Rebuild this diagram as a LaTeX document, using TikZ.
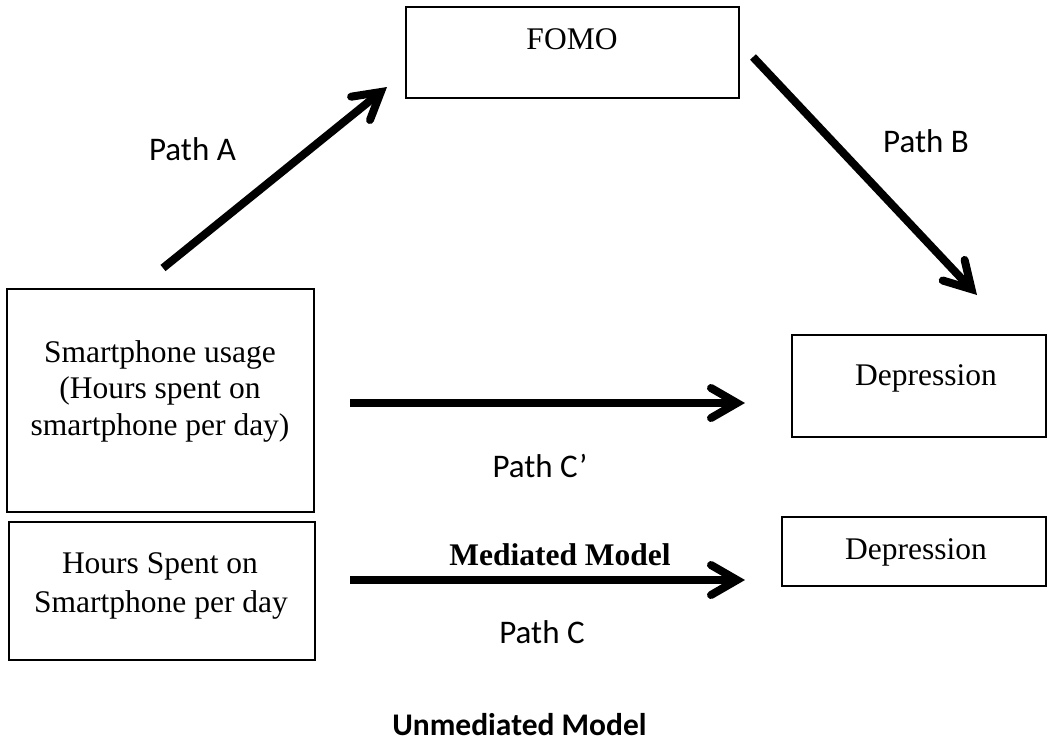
\documentclass[tikz,border=0pt]{standalone}
\usepackage{fontspec}
\setmainfont{Liberation Serif}
\newfontfamily\calfont{Carlito}
\usetikzlibrary{arrows.meta}
\begin{document}
\begin{tikzpicture}[x=1pt,y=-1pt,
  box/.style={draw,line width=2.5pt,inner sep=0pt,rectangle},
  serif/.style={font=\fontsize{31.5}{36.5}\selectfont,inner sep=0pt,anchor=base},
  lab/.style={font=\calfont\fontsize{33}{38}\selectfont,inner sep=0pt,anchor=base},
  conn/.style={line width=8pt,-{Straight Barb[length=26pt,width=30pt,line cap=round,line join=miter]}}]
\useasboundingbox (0,0) rectangle (1049,742);
\fill[white] (0,0) rectangle (1049,742);
% boxes
\node[box,minimum width=333pt,minimum height=91pt] (fomo) at (572.5,52.5) {};
\node[box,minimum width=307pt,minimum height=223pt] (phone) at (160.5,400.5) {};
\node[box,minimum width=306pt,minimum height=138pt] (hours) at (162,591) {};
\node[box,minimum width=254pt,minimum height=102pt] (dep1) at (919,386) {};
\node[box,minimum width=264pt,minimum height=69pt] (dep2) at (914,551.5) {};
% box texts
\node[serif] (fomot) at (572,49) {FOMO};
\node[serif] (ph1) at (160,362) {Smartphone usage};
\node[serif] (ph2) at (160,398) {(Hours spent on};
\node[serif] (ph3) at (160,435) {smartphone per day)};
\node[serif] (ho1) at (160,573) {Hours Spent on};
\node[serif] (ho2) at (161,612) {Smartphone per day};
\node[serif] (dep1t) at (926,385) {Depression};
\node[serif] (dep2t) at (916,559) {Depression};
\node[serif,font=\bfseries\fontsize{31.5}{36.5}\selectfont] (med) at (560,565) {Mediated Model};
% connector end points
\coordinate (a0) at (163,268);
\coordinate (a1) at (387,87);
\coordinate (b0) at (753,57);
\coordinate (b1) at (977,295);
\coordinate (c0) at (350,403);
\coordinate (c1) at (745,403);
\coordinate (d0) at (350,580);
\coordinate (d1) at (745,580);
\draw[conn] (a0) -- (a1);
\draw[conn] (b0) -- (b1);
\draw[conn] (c0) -- (c1);
\draw[conn] (d0) -- (d1);
% path labels
\node[lab] (pa) at (192.5,160) {Path A};
\node[lab] (pb) at (926,152) {Path B};
\node[lab] (pcp) at (540,477) {Path C’};
\node[lab] (pc) at (542,643) {Path C};
\node[lab,font=\calfont\bfseries\fontsize{31.5}{36}\selectfont] (unmed) at (519.5,735) {Unmediated Model};
\end{tikzpicture}
\end{document}
